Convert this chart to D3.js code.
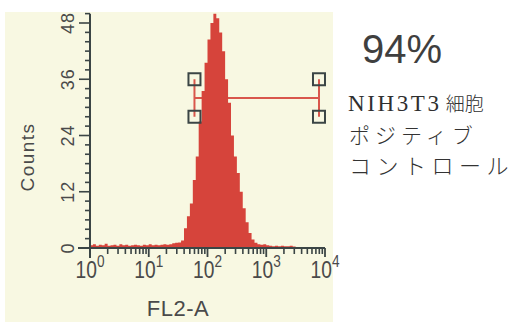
<!DOCTYPE html>
<html>
<head>
<meta charset="utf-8">
<script src="https://cdn.jsdelivr.net/npm/d3@7"></script>
<style>
  html, body { margin: 0; padding: 0; background: #ffffff; }
  svg { display: block; }
</style>
</head>
<body>
<svg id="chart" width="515" height="322"></svg>
<script>
// FL2-A fluorescence histogram, bins of 0.05 decade starting at 10^0
const binWidthDecades = 0.05;
const binCounts = [
  0.6, 0.8, 0.5, 0.7, 0.6, 0.9, 0.5, 0.6, 0.7, 0.5,
  0.8, 0.6, 0.7, 0.5, 0.6, 0.7, 0.6, 0.5, 0.7, 0.6,
  0.8, 0.6, 0.7, 0.6, 0.7, 0.8, 0.7, 0.8,
  1.0, 1.1, 1.2, 1.6, 4.2, 6.8, 9.5, 14.5, 19.5,
  27, 33.5, 39.5, 44.5, 48, 50, 49, 46, 42, 36,
  31, 24, 19.5, 16, 12, 8.5, 5.5, 3.2, 1.8, 1.1,
  0.8, 0.7, 0.8, 0.6,
  0.5, 0.4, 0.5, 0.4, 0.5, 0.4, 0.4, 0.5, 0.3
];

// axis ticks
const yTickValues = [0, 12, 24, 36, 48];
const xDecades = [1, 10, 100, 1000, 10000];
const xDecadeExponents = ["0", "1", "2", "3", "4"];

// marker gate (FL2-A range and count level)
const gateRange = [60, 7900];
const gateLevel = 32;
const gateSpan = [28, 36];

// annotation
const percentLabel = "94%";
const noteLines = [["NIH3T3", " 細胞"], ["ポジティブ"], ["コントロール"]];
const xTitle = "FL2-A";
const yTitle = "Counts";

const svg = d3.select("#chart");

const x = d3.scaleLog().domain([1, 10000]).range([90, 325]);
const y = d3.scaleLinear().domain([0, 48]).range([248, 23]);

const axisColor = "#3b4545";
const textColor = "#4a4a4a";
const histColor = "#d6443b";

// plot paper
svg.append("rect")
  .attr("x", 5).attr("y", 12)
  .attr("width", 328).attr("height", 310)
  .attr("fill", "#f8f8e2");

// gate line (drawn under histogram)
const gate = svg.append("g");
gate.append("line")
  .attr("x1", x(gateRange[0])).attr("x2", x(gateRange[1]))
  .attr("y1", y(gateLevel)).attr("y2", y(gateLevel))
  .attr("stroke", "#d9574c").attr("stroke-width", 2);
gateRange.forEach(v => {
  gate.append("line")
    .attr("x1", x(v)).attr("x2", x(v))
    .attr("y1", y(gateSpan[0])).attr("y2", y(gateSpan[1]))
    .attr("stroke", "#d9574c").attr("stroke-width", 2);
});

// histogram as stepped area
const pts = binCounts.map((c, i) => [Math.pow(10, i * binWidthDecades), c]);
pts.push([Math.pow(10, binCounts.length * binWidthDecades), binCounts[binCounts.length - 1]]);
const area = d3.area()
  .x(d => x(d[0]))
  .y0(y(0))
  .y1(d => y(d[1]))
  .curve(d3.curveStepAfter);
svg.append("path")
  .datum(pts)
  .attr("d", area)
  .attr("fill", histColor);

// gate handles
const handles = svg.append("g");
gateRange.forEach(v => {
  gateSpan.forEach(c => {
    handles.append("rect")
      .attr("x", x(v) - 6).attr("y", y(c) - 6)
      .attr("width", 12).attr("height", 12)
      .attr("fill", "none")
      .attr("stroke", axisColor).attr("stroke-width", 2);
  });
});

// y axis
const yAxis = svg.append("g").attr("stroke", axisColor);
yAxis.append("line")
  .attr("x1", x(1)).attr("x2", x(1))
  .attr("y1", y(0) + 10).attr("y2", y(50))
  .attr("stroke-width", 2);
d3.range(0, 51, 2).forEach(v => {
  const major = v % 12 === 0;
  yAxis.append("line")
    .attr("x1", x(1) - (major ? 11 : 5)).attr("x2", x(1))
    .attr("y1", y(v)).attr("y2", y(v))
    .attr("stroke-width", 1.6);
});
yTickValues.forEach(v => {
  svg.append("text")
    .attr("transform", `translate(74,${y(v)}) rotate(-90)`)
    .attr("text-anchor", "middle")
    .attr("font-family", "Liberation Sans, Arial, sans-serif")
    .attr("font-size", 18)
    .attr("letter-spacing", 1)
    .attr("fill", textColor)
    .text(v);
});
svg.append("text")
  .attr("transform", "translate(34,157) rotate(-90)")
  .attr("text-anchor", "middle")
  .attr("font-family", "Liberation Sans, Arial, sans-serif")
  .attr("font-size", 19)
  .attr("letter-spacing", 1.5)
  .attr("fill", textColor)
  .text(yTitle);

// x axis
const xAxis = svg.append("g").attr("stroke", axisColor);
xAxis.append("line")
  .attr("x1", x(1) - 12).attr("x2", x(10000))
  .attr("y1", y(0)).attr("y2", y(0))
  .attr("stroke-width", 2);
const xMinor = [];
for (let k = 0; k < 4; k++) {
  for (let m = 2; m <= 9; m++) xMinor.push(m * Math.pow(10, k));
}
xMinor.forEach(v => {
  xAxis.append("line")
    .attr("x1", x(v)).attr("x2", x(v))
    .attr("y1", y(0)).attr("y2", y(0) + 6)
    .attr("stroke-width", 1.6);
});
xDecades.forEach(v => {
  xAxis.append("line")
    .attr("x1", x(v)).attr("x2", x(v))
    .attr("y1", y(0)).attr("y2", y(0) + 9)
    .attr("stroke-width", 1.8);
});
xDecades.forEach((v, i) => {
  const t = svg.append("text")
    .attr("transform", `translate(${x(v)},278) scale(0.8,1)`)
    .attr("text-anchor", "middle")
    .attr("font-family", "Liberation Sans, Arial, sans-serif")
    .attr("fill", textColor);
  t.append("tspan").attr("font-size", 24).text("10");
  t.append("tspan").attr("font-size", 17).attr("dy", -11).text(xDecadeExponents[i]);
});
svg.append("text")
  .attr("x", 178).attr("y", 316)
  .attr("text-anchor", "middle")
  .attr("font-family", "Liberation Sans, Arial, sans-serif")
  .attr("font-size", 22)
  .attr("letter-spacing", 0.5)
  .attr("fill", textColor)
  .text(xTitle);

// annotation on the right
svg.append("text")
  .attr("x", 362).attr("y", 63)
  .attr("font-family", "Liberation Sans, Arial, sans-serif")
  .attr("font-size", 40)
  .attr("fill", "#3f3f3f")
  .text(percentLabel);

const l1 = svg.append("text")
  .attr("x", 348).attr("y", 111)
  .attr("fill", "#2f2f2f");
l1.append("tspan")
  .attr("font-family", "Liberation Serif, Times New Roman, serif")
  .attr("font-size", 23)
  .attr("letter-spacing", 2.6)
  .text(noteLines[0][0]);
l1.append("tspan")
  .attr("font-family", "Noto Sans CJK JP, sans-serif")
  .attr("font-weight", 300)
  .attr("font-size", 19)
  .text(noteLines[0][1]);

[[noteLines[1][0], 143, 21, 5], [noteLines[2][0], 174, 22, 5.5]].forEach(([s, yy, fs, ls]) => {
  svg.append("text")
    .attr("x", 349).attr("y", yy)
    .attr("font-family", "Noto Sans CJK JP, sans-serif")
    .attr("font-weight", 300)
    .attr("font-size", fs)
    .attr("letter-spacing", ls)
    .attr("fill", "#333333")
    .text(s);
});
</script>
</body>
</html>
